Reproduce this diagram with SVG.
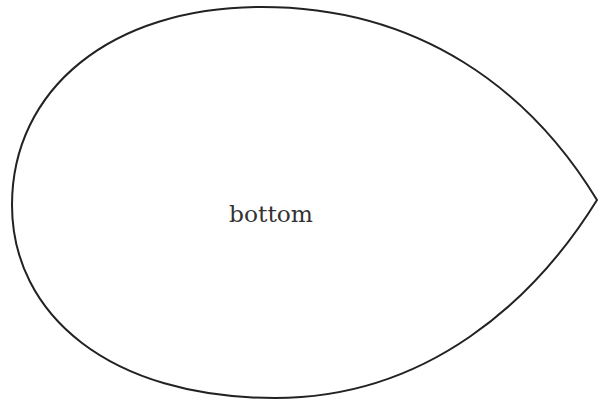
<svg xmlns="http://www.w3.org/2000/svg" width="598" height="402" viewBox="0 0 598 402">
<style>
.shape{fill:#fff;stroke:#222;stroke-width:2}
.label{font-family:"DejaVu Serif","Liberation Serif",serif;font-size:22px;fill:#333;text-anchor:middle}
</style>
<rect width="598" height="402" fill="#fff"/>
<g id="bottom">
<path class="shape" d="M597,200 C530,90 420,7 262,7 C110,7 12,90 12,205 C12,315 110,398 275,398 C428,398 535,300 597,200 Z"/>
<text class="label" x="271" y="222" textLength="84" lengthAdjust="spacingAndGlyphs">bottom</text>
</g>
<g id="connectors"></g>
</svg>
